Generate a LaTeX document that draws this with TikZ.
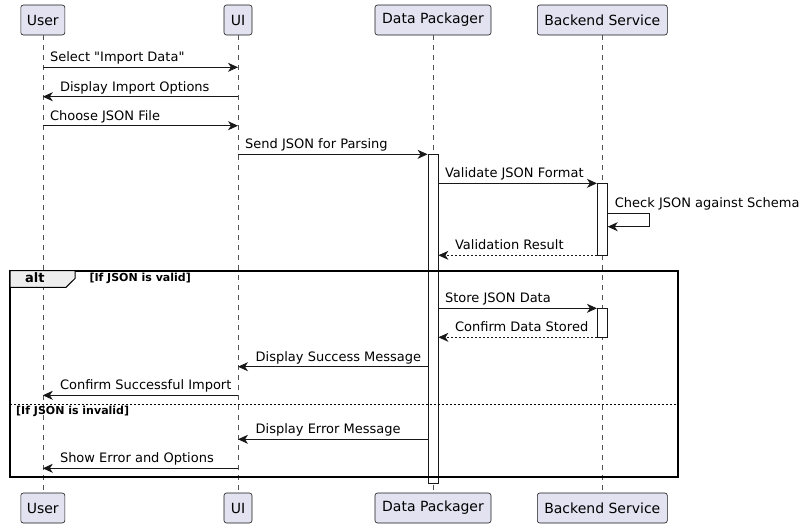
\documentclass[tikz,border=0pt]{standalone}
\usepackage{fontspec}
\setmainfont{DejaVu Sans}[Ligatures=TeXOff]
\usetikzlibrary{arrows.meta}
\definecolor{pfill}{HTML}{E2E2F0}
\definecolor{ink}{HTML}{181818}
\definecolor{tabfill}{HTML}{EEEEEE}
\tikzset{
 part/.style={draw=ink, fill=pfill, rounded corners=2.5pt, line width=0.6pt, minimum height=30pt, inner sep=0pt, font=\fontsize{14}{16}\selectfont, text=black},
 life/.style={draw=ink!75, line width=0.5pt, dash pattern=on 5pt off 5pt},
 actbar/.style={draw=ink, fill=white, line width=0.8pt, minimum width=10pt, inner sep=0pt},
 msg/.style={draw=ink, line width=0.9pt, -{Stealth[length=10pt,width=9pt,inset=3pt]}},
 ret/.style={msg, dash pattern=on 2pt off 2pt},
 lbl/.style={font=\fontsize{13}{15}\selectfont, anchor=base west, inner sep=0pt, text=black},
 cond/.style={font=\bfseries\fontsize{11}{13}\selectfont, anchor=base west, inner sep=0pt, text=black},
}
\begin{document}
\begin{tikzpicture}[x=1pt,y=-1pt]
\useasboundingbox (0,0) rectangle (804,528);
% participants
\node[part, minimum width=44pt]  (U)  at (42.8,20) {User};
\node[part, minimum width=28pt]  (I)  at (238,20) {UI};
\node[part, minimum width=116pt] (D)  at (433,20) {Data Packager};
\node[part, minimum width=130pt] (B)  at (602.3,20) {Backend Service};
\node[part, minimum width=44pt]  (Ub) at (42.8,508) {User};
\node[part, minimum width=28pt]  (Ib) at (238,508) {UI};
\node[part, minimum width=116pt] (Db) at (433,508) {Data Packager};
\node[part, minimum width=130pt] (Bb) at (602.3,508) {Backend Service};
% lifelines
\draw[life] (U.south) -- (Ub.north);
\draw[life] (I.south) -- (Ib.north);
\draw[life] (D.south) -- (Db.north);
\draw[life] (B.south) -- (Bb.north);
% activation bars
\node[actbar, minimum height=329pt] (A)  at (433,318.8) {};
\node[actbar, minimum height=72pt]  (B1) at (602.3,219.3) {};
\node[actbar, minimum height=29pt]  (B2) at (602.3,322.8) {};
% messages
\draw[msg] (U |- 0,67.3) -- (I |- 0,67.3);
\path (U |- 0,67.3) ++(7,-5.5) node[lbl] (m1) {Select "Import Data"};
\draw[msg] (I |- 0,96.7) -- (U |- 0,96.7);
\path (U |- 0,96.7) ++(17,-5.5) node[lbl] (m2) {Display Import Options};
\draw[msg] (U |- 0,125.7) -- (I |- 0,125.7);
\path (U |- 0,125.7) ++(7,-5.5) node[lbl] (m3) {Choose JSON File};
\draw[msg] (I |- 0,154.3) -- (A.west |- 0,154.3);
\path (I |- 0,154.3) ++(7,-5.5) node[lbl] (m4) {Send JSON for Parsing};
\draw[msg] (A.east |- 0,183.3) -- (B1.west |- 0,183.3);
\path (A.east |- 0,183.3) ++(6.5,-5.5) node[lbl] (m5) {Validate JSON Format};
\draw[msg] (B1.east |- 0,213.3) -- ++(42,0) -- ++(0,13.4) -- (B1.east |- 0,226.7);
\path (B1.east |- 0,213.3) ++(7,-5.5) node[lbl] (m6) {Check JSON against Schema};
\draw[ret] (B1.west |- 0,255.3) -- (A.east |- 0,255.3);
\path (A.east |- 0,255.3) ++(16.5,-5.5) node[lbl] (m7) {Validation Result};
% alt frame
\draw[draw=black, line width=1.6pt] (10,270.7) rectangle (677.7,476.7);
\draw[draw=black, fill=tabfill, line width=1pt] (10,270.7) -- (75,270.7) -- (75,278.5) -- (66,287.3) -- (10,287.3) -- cycle;
\node[font=\bfseries\fontsize{13}{15}\selectfont, anchor=base west, inner sep=0pt] (alt) at (25,282.7) {alt};
\node[cond] (c1) at (89.3,281.7) {[If JSON is valid]};
\draw[draw=black, line width=0.9pt, dash pattern=on 2pt off 2pt] (10,404.3) -- (677.7,404.3);
\node[cond] (c2) at (16,414.5) {[If JSON is invalid]};
% alt messages
\draw[msg] (A.east |- 0,308.3) -- (B2.west |- 0,308.3);
\path (A.east |- 0,308.3) ++(6.5,-5.5) node[lbl] (m8) {Store JSON Data};
\draw[ret] (B2.west |- 0,337.3) -- (A.east |- 0,337.3);
\path (A.east |- 0,337.3) ++(16.5,-5.5) node[lbl] (m9) {Confirm Data Stored};
\draw[msg] (A.west |- 0,366.7) -- (I |- 0,366.7);
\path (I |- 0,366.7) ++(17.5,-5.5) node[lbl] (m10) {Display Success Message};
\draw[msg] (I |- 0,395.3) -- (U |- 0,395.3);
\path (U |- 0,395.3) ++(17,-5.5) node[lbl] (m11) {Confirm Successful Import};
\draw[msg] (A.west |- 0,439.3) -- (I |- 0,439.3);
\path (I |- 0,439.3) ++(17.5,-5.5) node[lbl] (m12) {Display Error Message};
\draw[msg] (I |- 0,468.3) -- (U |- 0,468.3);
\path (U |- 0,468.3) ++(17,-5.5) node[lbl] (m13) {Show Error and Options};
\end{tikzpicture}
\end{document}
